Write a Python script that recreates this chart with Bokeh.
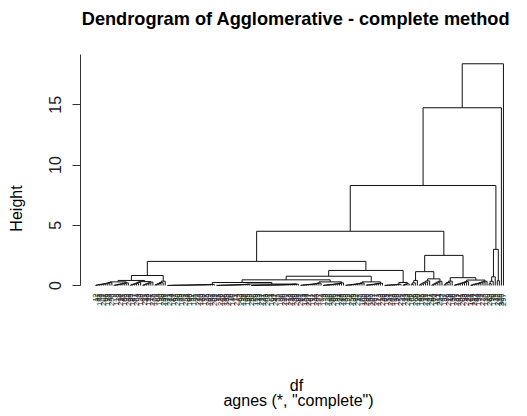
import math
from bokeh.plotting import figure
from bokeh.models import Range1d, FixedTicker, ColumnDataSource, Label
from bokeh.embed import file_html
from bokeh.resources import INLINE
from bokeh.core.properties import value

FONT = "Liberation Sans"

title_text = "Dendrogram of Agglomerative - complete method"
y_title = "Height"
x_title = "df"
x_subtitle = 'agnes (*, "complete")'
y_ticks = [0, 5, 10, 15]

# Low-level leaf groups: successive merge heights of consecutive leaves (chained merges)
grp_a1 = [0.02, 0.05, 0.07, 0.10, 0.12, 0.15, 0.19, 0.24]
grp_a2 = [0.03, 0.04, 0.08, 0.11, 0.14, 0.18, 0.22]
grp_a3 = [0.04, 0.09, 0.12, 0.18, 0.26]
grp_a4 = [0.03, 0.07, 0.13, 0.19, 0.28]
grp_a5 = [0.05, 0.10, 0.16, 0.24, 0.36]
grp_b1 = [0.00, 0.01, 0.01, 0.02, 0.02, 0.02, 0.03, 0.03, 0.03, 0.03, 0.04, 0.04,
          0.04, 0.05, 0.05, 0.05, 0.06, 0.06, 0.06, 0.07, 0.07, 0.08, 0.09]
grp_b2 = [0.01, 0.01, 0.02, 0.02, 0.03, 0.03, 0.04, 0.04, 0.05, 0.05, 0.06, 0.06,
          0.07, 0.08, 0.09, 0.10]
grp_b3 = [0.00, 0.01, 0.01, 0.01, 0.02, 0.02, 0.03, 0.03, 0.03, 0.04, 0.04, 0.05,
          0.05, 0.05, 0.06, 0.06, 0.07, 0.07, 0.08, 0.08, 0.09, 0.10, 0.11]
grp_c1 = [0.02, 0.03, 0.05, 0.06, 0.08, 0.09, 0.11, 0.13, 0.16, 0.20]
grp_c2 = [0.01, 0.03, 0.04, 0.06, 0.07, 0.09, 0.12, 0.14, 0.17, 0.22]
grp_d1 = [0.02, 0.04, 0.05, 0.07, 0.09, 0.11, 0.14, 0.17, 0.21]
grp_d2 = [0.03, 0.05, 0.06, 0.08, 0.10, 0.13, 0.16, 0.19]
grp_e1 = [0.01, 0.02, 0.03, 0.04, 0.05, 0.06, 0.08, 0.10]
grp_e2 = [0.04, 0.08, 0.14]
grp_f1 = [0.10, 0.22, 0.42]
grp_f2 = [0.05, 0.12, 0.20, 0.28, 0.38]
grp_f3 = [0.04, 0.10, 0.18, 0.27, 0.35]
grp_g1 = [0.06, 0.14, 0.25, 0.36]
grp_g2 = [0.03, 0.07, 0.11, 0.15, 0.20, 0.26, 0.32]
grp_g3 = [0.02, 0.06, 0.10, 0.14, 0.18, 0.23, 0.29, 0.35]
grp_h1 = [0.15, 0.35, 0.72]
grp_h2 = [0.40]
grp_i1 = []
grp_i2 = []

# Higher-level merges (name, left child, right child, height)
merge_name = ["m_a12", "m_a34", "m_a", "m_g1", "m_b23", "m_b", "m_c", "m_bc",
              "m_d", "m_bcd", "m_e", "m_g2", "m_g", "m_f23", "m_hl", "m_g23",
              "m_hr", "m_h", "m_gh", "m_f", "m_c8", "m_top2", "m_root"]
merge_left = ["a1", "a3", "m_a12", "m_a", "b2", "b1", "c1", "m_b",
              "d1", "m_bc", "e1", "m_bcd", "m_g1", "f2", "f1", "g2",
              "g1", "m_hl", "m_g", "h1", "m_gh", "m_c8", "m_top2"]
merge_right = ["a2", "a4", "m_a34", "a5", "b3", "m_b23", "c2", "m_c",
               "d2", "m_d", "e2", "m_e", "m_g2", "f3", "m_f23", "g3",
               "m_g23", "m_hr", "m_h", "h2", "m_f", "i1", "i2"]
merge_height = [0.30, 0.32, 0.42, 0.83, 0.12, 0.25, 0.30, 0.47,
                0.30, 0.77, 0.25, 1.25, 2.00, 0.55, 1.15, 0.45,
                0.65, 2.50, 4.50, 3.00, 8.30, 14.75, 18.40]

leaf_labels = [
    "12", "87", "143", "5", "201", "66", "178", "34", "250", "9", "118", "73", "296", "41", "160", "22", "233", "95", "187", "57",
    "264", "3", "129", "80", "211", "48", "152", "17", "275", "106", "64", "190", "28", "239", "135", "71", "283", "14", "167", "99",
    "220", "39", "148", "7", "258", "84", "196", "52", "121", "30", "244", "110", "68", "177", "25", "289", "137", "59", "205", "91",
    "15", "226", "102", "46", "183", "270", "76", "140", "11", "214", "63", "299", "125", "36", "195", "88", "252", "20", "158", "113",
    "43", "271", "131", "69", "208", "1", "164", "97", "247", "55", "186", "26", "230", "117", "78", "293", "146", "38", "203", "85",
    "261", "19", "154", "104", "237", "61", "172", "31", "280", "127", "74", "199", "8", "222", "139", "50", "266", "93", "181", "24",
    "245", "115", "58", "192", "2", "256", "133", "82", "217", "45", "169", "100", "286", "37", "150", "207", "67", "277", "123", "13",
    "229", "89", "175", "54", "241", "108", "18", "198", "72", "259", "144", "33", "213", "96", "162", "6", "268", "120", "47", "185",
    "79", "235", "141", "27", "294", "60", "174", "111", "254", "42", "197", "86", "219", "16", "156", "70", "281", "132", "51", "209",
    "98", "248", "21", "166", "114", "287", "44", "193", "75", "224", "130", "10", "263", "90", "179", "35", "242", "119", "300", "297",
]

chains = {"a1": grp_a1, "a2": grp_a2, "a3": grp_a3, "a4": grp_a4, "a5": grp_a5,
          "b1": grp_b1, "b2": grp_b2, "b3": grp_b3, "c1": grp_c1, "c2": grp_c2,
          "d1": grp_d1, "d2": grp_d2, "e1": grp_e1, "e2": grp_e2,
          "f1": grp_f1, "f2": grp_f2, "f3": grp_f3,
          "g1": grp_g1, "g2": grp_g2, "g3": grp_g3,
          "h1": grp_h1, "h2": grp_h2, "i1": grp_i1, "i2": grp_i2}
children = {n: (l, r, h) for n, l, r, h in zip(merge_name, merge_left, merge_right, merge_height)}

sx0, sy0, sx1, sy1 = [], [], [], []
leaf_x = []
counter = [0]


def seg(a, b, c, d):
    sx0.append(a); sy0.append(b); sx1.append(c); sy1.append(d)


def place(name):
    if name in chains:
        hts = chains[name]
        x = counter[0]; counter[0] += 1; leaf_x.append(x)
        hcur = 0.0
        for hh in hts:
            xn = counter[0]; counter[0] += 1; leaf_x.append(xn)
            seg(x, hcur, x, hh); seg(xn, 0.0, xn, hh); seg(x, hh, xn, hh)
            x = (x + xn) / 2.0
            hcur = hh
        return x, hcur
    l, r, h = children[name]
    xl, hl = place(l)
    xr, hr = place(r)
    seg(xl, hl, xl, h); seg(xr, hr, xr, h); seg(xl, h, xr, h)
    return (xl + xr) / 2.0, h


place(merge_name[-1])

# page-pixel layout helpers (figure sits at page origin)
leaf0_px, leaf_step_px = 95.0, 2.05
zero_px, unit_px = 285.0, 12.05


def xd(px):
    return (px - leaf0_px) / leaf_step_px


def yd(py):
    return (zero_px - py) / unit_px


W, H = 527, 416
FRAME_LEFT = 80

p = figure(width=W, height=H, output_backend="svg", toolbar_location=None,
           x_range=Range1d(xd(FRAME_LEFT), xd(W)), y_range=Range1d(yd(H), yd(0)),
           x_axis_location=None, min_border_left=FRAME_LEFT, min_border_right=0,
           min_border_top=0, min_border_bottom=0)
p.outline_line_color = None
p.grid.grid_line_color = None
p.background_fill_color = "white"
p.border_fill_color = "white"

p.segment(x0="x0", y0="y0", x1="x1", y1="y1",
          source=ColumnDataSource(dict(x0=sx0, y0=sy0, x1=sx1, y1=sy1)),
          line_color="#111111", line_width=1)

p.text(x="x", y="y", text="t",
       source=ColumnDataSource(dict(x=leaf_x, y=[0.0] * len(leaf_x), t=leaf_labels[:len(leaf_x)])),
       angle=math.pi / 2, text_align="right", text_baseline="middle",
       text_font=value(FONT), text_font_size="7.5px", text_color="#222222", y_offset=8)

p.add_layout(Label(x=xd(295.5), y=yd(18), text=title_text, text_align="center", text_baseline="middle",
                   text_font=FONT, text_font_size="18.2px", text_font_style="bold", text_color="black"))
p.add_layout(Label(x=xd(296), y=yd(385), text=x_title, text_align="center", text_baseline="middle",
                   text_font=FONT, text_font_size="16px", text_color="black"))
p.add_layout(Label(x=xd(298), y=yd(400), text=x_subtitle, text_align="center", text_baseline="middle",
                   text_font=FONT, text_font_size="16px", text_color="black"))

ax = p.yaxis[0]
ax.ticker = FixedTicker(ticks=y_ticks)
ax.bounds = (0, yd(54))
ax.axis_label = y_title
ax.axis_label_text_font = FONT
ax.axis_label_text_font_size = "16px"
ax.axis_label_text_font_style = "normal"
ax.axis_label_standoff = 21
ax.major_label_text_font = FONT
ax.major_label_text_font_size = "16px"
ax.major_label_orientation = "vertical"
ax.major_label_standoff = 12
ax.major_tick_out = 8
ax.major_tick_in = 0
ax.minor_tick_line_color = None
ax.axis_line_color = "#333333"
ax.major_tick_line_color = "#333333"
ax.major_label_text_color = "#222222"
ax.axis_label_text_color = "black"

open("out.html", "w").write(file_html(p, INLINE))
